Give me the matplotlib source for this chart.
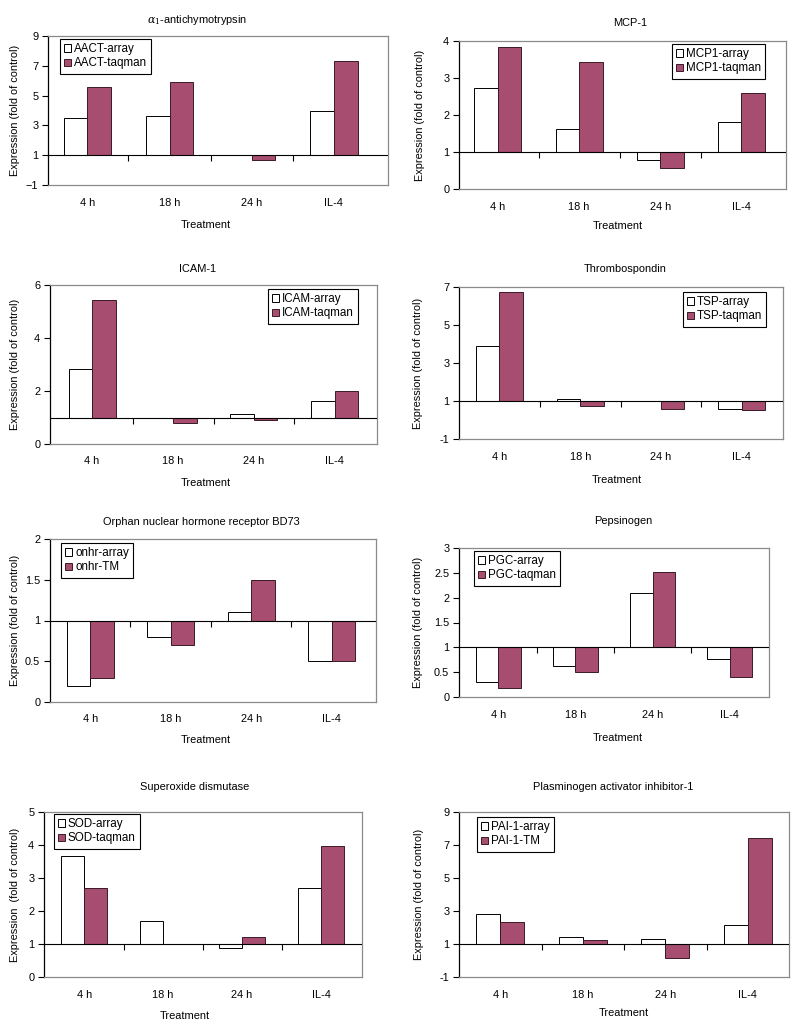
import numpy as np
import matplotlib
matplotlib.use("Agg")
import matplotlib.pyplot as plt

plt.rcParams['font.family'] = ['Liberation Sans', 'DejaVu Sans']
plt.rcParams['mathtext.fontset'] = 'dejavuserif'

W, H = 800, 1033
FS = 7.9
MAROON = '#A64D70'
FRAME = '#8a8a8a'

categories = ['4 h', '18 h', '24 h', 'IL-4']

aact_array = [3.5, 3.6, 1.0, 4.0]
aact_taqman = [5.6, 5.9, 0.65, 7.3]
mcp1_array = [2.72, 1.62, 0.79, 1.82]
mcp1_taqman = [3.83, 3.44, 0.58, 2.6]
icam_array = [2.83, 1.0, 1.14, 1.63]
icam_taqman = [5.42, 0.81, 0.92, 1.99]
tsp_array = [3.91, 1.13, 1.0, 0.58]
tsp_taqman = [6.75, 0.74, 0.58, 0.55]
onhr_array = [0.2, 0.8, 1.1, 0.5]
onhr_tm = [0.3, 0.7, 1.5, 0.5]
pgc_array = [0.3, 0.62, 2.1, 0.77]
pgc_taqman = [0.18, 0.51, 2.51, 0.4]
sod_array = [3.68, 1.69, 0.87, 2.71]
sod_taqman = [2.69, 1.0, 1.21, 3.98]
pai_array = [2.79, 1.44, 1.32, 2.13]
pai_tm = [2.31, 1.24, 0.15, 7.44]

titles = [r'$\alpha_1$-antichymotrypsin', 'MCP-1', 'ICAM-1', 'Thrombospondin',
          'Orphan nuclear hormone receptor BD73', 'Pepsinogen',
          'Superoxide dismutase', 'Plasminogen activator inhibitor-1']
series = [(aact_array, aact_taqman), (mcp1_array, mcp1_taqman),
          (icam_array, icam_taqman), (tsp_array, tsp_taqman),
          (onhr_array, onhr_tm), (pgc_array, pgc_taqman),
          (sod_array, sod_taqman), (pai_array, pai_tm)]
legend_labels = [('AACT-array', 'AACT-taqman'), ('MCP1-array', 'MCP1-taqman'),
                 ('ICAM-array', 'ICAM-taqman'), ('TSP-array', 'TSP-taqman'),
                 ('onhr-array', 'onhr-TM'), ('PGC-array', 'PGC-taqman'),
                 ('SOD-array', 'SOD-taqman'), ('PAI-1-array', 'PAI-1-TM')]
yticks = [[-1, 1, 3, 5, 7, 9], [0, 1, 2, 3, 4], [0, 2, 4, 6], [-1, 1, 3, 5, 7],
          [0, 0.5, 1, 1.5, 2], [0, 0.5, 1, 1.5, 2, 2.5, 3],
          [0, 1, 2, 3, 4, 5], [-1, 1, 3, 5, 7, 9]]
yticklabels = [['\u22121', '1', '3', '5', '7', '9'], ['0', '1', '2', '3', '4'],
               ['0', '2', '4', '6'], ['-1', '1', '3', '5', '7'],
               ['0', '0.5', '1', '1.5', '2'],
               ['0', '0.5', '1', '1.5', '2', '2.5', '3'],
               ['0', '1', '2', '3', '4', '5'], ['-1', '1', '3', '5', '7', '9']]
ylabels = ['Expression (fold of control)'] * 6 + ['Expression  (fold of control)',
                                                 'Expression (fold of control)']

# layout (pixels): axes box l, t, r, b ; xlim ; title xy ; xlabel xy ; ylabel x ; legend top-left
boxes = [(48, 36, 388, 185), (459, 41, 786, 189), (50, 285, 377, 444), (459, 287, 783, 439),
         (50, 539, 376, 702), (459, 548, 769, 697), (44, 812, 362, 977), (459, 812, 789, 977)]
xlims = [(-0.48, 3.66), (-0.48, 3.55), (-0.52, 3.52), (-0.5, 3.51),
         (-0.5, 3.55), (-0.51, 3.51), (-0.51, 3.52), (-0.5, 3.5)]
title_xy = [(197, 20), (630, 23), (198, 269), (625, 269), (201, 522), (623, 521), (195, 787), (613, 787)]
xlabel_xy = [(206, 225), (618, 226), (206, 483), (617, 480), (206, 740), (618, 738), (185, 1016), (624, 1013)]
ylabel_x = [15, 420, 15, 418, 15, 418, 15, 419]
legend_tl = [(60, 39), (672, 44), (268, 289), (683, 292), (61, 543), (474, 551), (54, 814), (477, 817)]

fig = plt.figure(figsize=(W / 100, H / 100), dpi=100)
fig.patch.set_facecolor('white')

width = 0.29
x = np.arange(len(categories))
for i in range(8):
    l, t, r, b = boxes[i]
    ax = fig.add_axes([l / W, 1 - b / H, (r - l) / W, (b - t) / H])
    arr, tq = series[i]
    arr = np.asarray(arr, float)
    tq = np.asarray(tq, float)
    ax.bar(x - width / 2, arr - 1, width=width, bottom=1, color='white',
           edgecolor='black', linewidth=0.7, label=legend_labels[i][0], zorder=2)
    ax.bar(x + width / 2, tq - 1, width=width, bottom=1, color=MAROON,
           edgecolor='#3a1a26', linewidth=0.7, label=legend_labels[i][1], zorder=2)
    ax.axhline(1, color='black', linewidth=0.8, zorder=3)
    bounds = np.arange(len(categories) - 1) + 0.5
    ax.plot(bounds, np.ones_like(bounds), linestyle='none', marker=3,
            markersize=4, color='black', markeredgewidth=0.8, zorder=3)
    ax.set_xlim(*xlims[i])
    ax.set_ylim(yticks[i][0], yticks[i][-1])
    ax.set_yticks(yticks[i])
    ax.set_yticklabels(yticklabels[i], fontsize=FS)
    ax.set_xticks(x)
    ax.set_xticklabels(categories, fontsize=FS)
    ax.tick_params(axis='x', length=0, pad=9)
    ax.tick_params(axis='y', length=4, width=0.8, direction='out', pad=3)
    for s in ['top', 'right', 'bottom']:
        ax.spines[s].set_color(FRAME)
        ax.spines[s].set_linewidth(0.9)
    ax.spines['left'].set_color('black')
    ax.spines['left'].set_linewidth(0.9)

    lx, ly = legend_tl[i]
    leg = ax.legend(loc='upper left', bbox_to_anchor=(lx / W, 1 - ly / H),
                    bbox_transform=fig.transFigure, fontsize=FS + 0.5,
                    frameon=True, fancybox=False, framealpha=1, edgecolor='black',
                    handlelength=0.6, handleheight=0.6, handletextpad=0.25,
                    borderpad=0.35, labelspacing=0.2, borderaxespad=0)
    leg.get_frame().set_linewidth(0.8)

    tx, ty = title_xy[i]
    fig.text(tx / W, 1 - ty / H, titles[i], ha='center', va='center', fontsize=FS)
    xx, xy = xlabel_xy[i]
    fig.text(xx / W, 1 - xy / H, 'Treatment', ha='center', va='center', fontsize=FS)
    fig.text(ylabel_x[i] / W, 1 - ((t + b) / 2) / H, ylabels[i], ha='center',
             va='center', rotation=90, fontsize=FS)

fig.savefig('out.png', dpi=100, facecolor='white')
